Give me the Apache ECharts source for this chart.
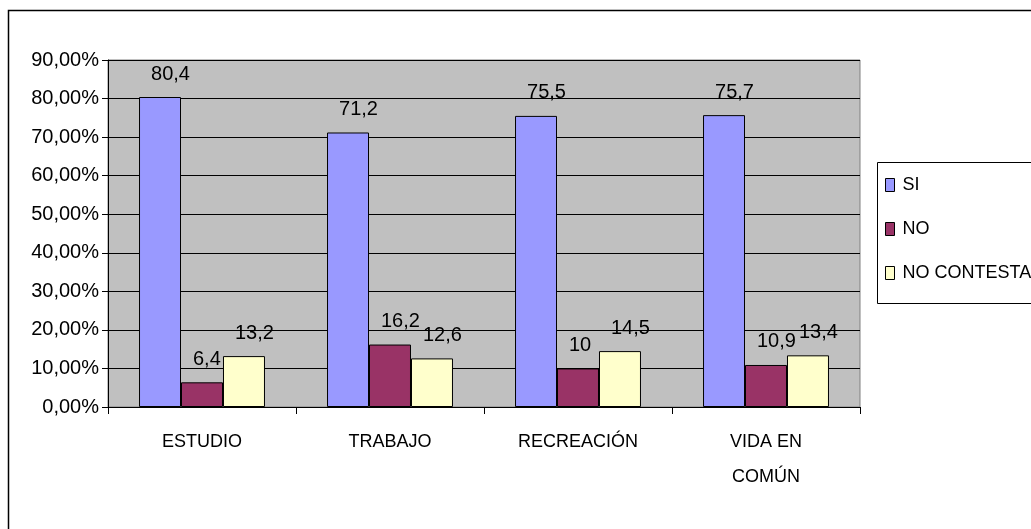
<!DOCTYPE html>
<html>
<head>
<meta charset="utf-8">
<script src="https://cdn.jsdelivr.net/npm/echarts@6/dist/echarts.min.js"></script>
<style>
html,body{margin:0;padding:0;background:#fff;}
#c{width:1031px;height:529px;}
</style>
</head>
<body>
<div id="c"></div>
<script>
const categories = ['ESTUDIO', 'TRABAJO', 'RECREACIÓN', 'VIDA EN\nCOMÚN'];
const seriesNames = ['SI', 'NO', 'NO CONTESTA'];
const siValues = [80.4, 71.2, 75.5, 75.7];
const noValues = [6.4, 16.2, 10, 10.9];
const noContestaValues = [13.2, 12.6, 14.5, 13.4];
const yTickLabels = ['0,00%', '10,00%', '20,00%', '30,00%', '40,00%', '50,00%', '60,00%', '70,00%', '80,00%', '90,00%'];
const colors = ['#9999FF', '#993366', '#FFFFCC'];

const FONT = '"Liberation Sans", Arial, sans-serif';
const chart = echarts.init(document.getElementById('c'));

function mkSeries(name, data, color) {
  return {
    name: name,
    type: 'bar',
    data: data,
    barGap: '0%',
    barCategoryGap: '33%',
    itemStyle: { color: color, borderColor: '#000', borderWidth: 1 },
    label: {
      show: true,
      position: 'top',
      distance: 13,
      align: 'left',
      offset: [-9, 0],
      color: '#000',
      fontFamily: FONT,
      fontSize: 20,
      formatter: p => String(p.value).replace('.', ',')
    },
    emphasis: { disabled: true }
  };
}

chart.setOption({
  animation: false,
  backgroundColor: '#fff',
  graphic: [{
    type: 'rect',
    shape: { x: 8.5, y: 10.5, width: 1040, height: 540 },
    style: { fill: 'none', stroke: '#000', lineWidth: 1.5 },
    z: -10
  }, {
    type: 'rect',
    shape: { x: 877.5, y: 162.5, width: 200, height: 141 },
    style: { fill: '#fff', stroke: '#000', lineWidth: 1 },
    z: -5
  }],
  grid: {
    left: 108, right: 171, top: 60, bottom: 122,
    show: true, backgroundColor: '#C0C0C0', borderColor: '#808080', borderWidth: 1
  },
  legend: {
    orient: 'vertical',
    left: 877, top: 162,
    padding: [13, 0, 20, 8],
    itemWidth: 9, itemHeight: 13, itemGap: 24,
    icon: 'rect',
    itemStyle: { borderColor: '#000', borderWidth: 1 },
    textStyle: { fontFamily: FONT, fontSize: 18, color: '#000', lineHeight: 20, padding: [0, 0, 0, 3] },
    data: seriesNames
  },
  xAxis: {
    type: 'category',
    data: categories,
    axisLine: { lineStyle: { color: '#000', width: 1 } },
    axisTick: { show: true, length: 7, lineStyle: { color: '#000' } },
    axisLabel: { color: '#000', fontFamily: FONT, fontSize: 18, margin: 18, lineHeight: 35, interval: 0 },
    splitLine: { show: false }
  },
  yAxis: {
    type: 'value',
    min: 0, max: 90, interval: 10,
    axisLine: { show: true, lineStyle: { color: '#000', width: 1 } },
    axisTick: { show: true, length: 6, lineStyle: { color: '#000' } },
    axisLabel: {
      color: '#000', fontFamily: FONT, fontSize: 20, margin: 9,
      padding: [0, 0, 8, 0],
      formatter: v => yTickLabels[Math.round(v / 10)]
    },
    splitLine: { show: true, lineStyle: { color: '#000', width: 1 } }
  },
  series: [
    mkSeries(seriesNames[0], siValues, colors[0]),
    mkSeries(seriesNames[1], noValues, colors[1]),
    mkSeries(seriesNames[2], noContestaValues, colors[2])
  ]
});
</script>
</body>
</html>
